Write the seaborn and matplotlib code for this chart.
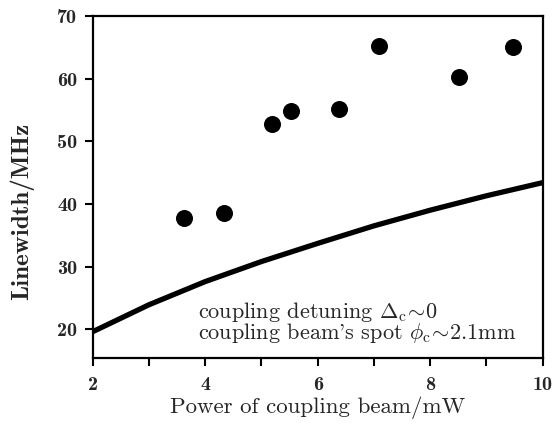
import matplotlib
matplotlib.use("Agg")
import pandas as pd
import matplotlib.pyplot as plt
import seaborn as sns
from matplotlib.ticker import MultipleLocator

# measured linewidths (dots)
power_meas = [3.63, 4.34, 5.19, 5.52, 6.38, 7.09, 8.51, 9.47]
width_meas = [37.7, 38.6, 52.8, 54.9, 55.1, 65.2, 60.2, 65.0]

# theory curve
power_calc = [2, 3, 4, 5, 6, 7, 8, 9, 10]
width_calc = [19.6, 23.9, 27.6, 30.8, 33.7, 36.5, 39.0, 41.3, 43.4]

x_ticks = [2, 4, 6, 8, 10]
y_ticks = [20, 30, 40, 50, 60, 70]

sns.set_theme(style="ticks")
plt.rcParams['font.family'] = ['cmr10', 'DejaVu Serif']
plt.rcParams['mathtext.fontset'] = 'cm'
plt.rcParams['axes.unicode_minus'] = False

meas = pd.DataFrame({'power': power_meas, 'width': width_meas})
calc = pd.DataFrame({'power': power_calc, 'width': width_calc})

fig = plt.figure(figsize=(5.56, 4.26), dpi=100)
ax = fig.add_axes([0.1667, 0.1596, 0.8094, 0.8028])

sns.lineplot(data=calc, x='power', y='width', color='black', linewidth=3.8, ax=ax)
sns.scatterplot(data=meas, x='power', y='width', color='black', s=150,
                edgecolor='black', linewidth=0, ax=ax, zorder=3)

ax.set_xlim(2, 10)
ax.set_ylim(15.4, 70)
ax.set_xticks(x_ticks)
ax.set_yticks(y_ticks)
ax.xaxis.set_minor_locator(MultipleLocator(1))
ax.tick_params(axis='both', which='both', direction='out', width=1.5,
               top=False, right=False, length=6, color='black')
ax.tick_params(axis='both', which='major', labelsize=14.5, pad=5)
ax.tick_params(axis='x', which='major', pad=7)
for lab in ax.get_xticklabels() + ax.get_yticklabels():
    lab.set_fontfamily(['cmb10', 'DejaVu Serif'])
for sp in ax.spines.values():
    sp.set_linewidth(1.6)
    sp.set_color('black')

ax.set_xlabel('Power of coupling beam/mW', fontsize=16.5, labelpad=2)
ax.set_ylabel('Linewidth/MHz', fontsize=18, fontfamily=['cmb10', 'DejaVu Serif'])
ax.yaxis.set_label_coords(-0.13, 0.43)

ax.text(0.234, 0.135, r'coupling detuning $\mathit{\Delta}_{\rm c}\!\sim\!0$', transform=ax.transAxes,
        fontsize=16, ha='left', va='center')
ax.text(0.234, 0.072, r"coupling beam's spot $\phi_{\rm c}\!\sim\!2.1$mm", transform=ax.transAxes,
        fontsize=16, ha='left', va='center')

fig.savefig('out.png', dpi=100)
